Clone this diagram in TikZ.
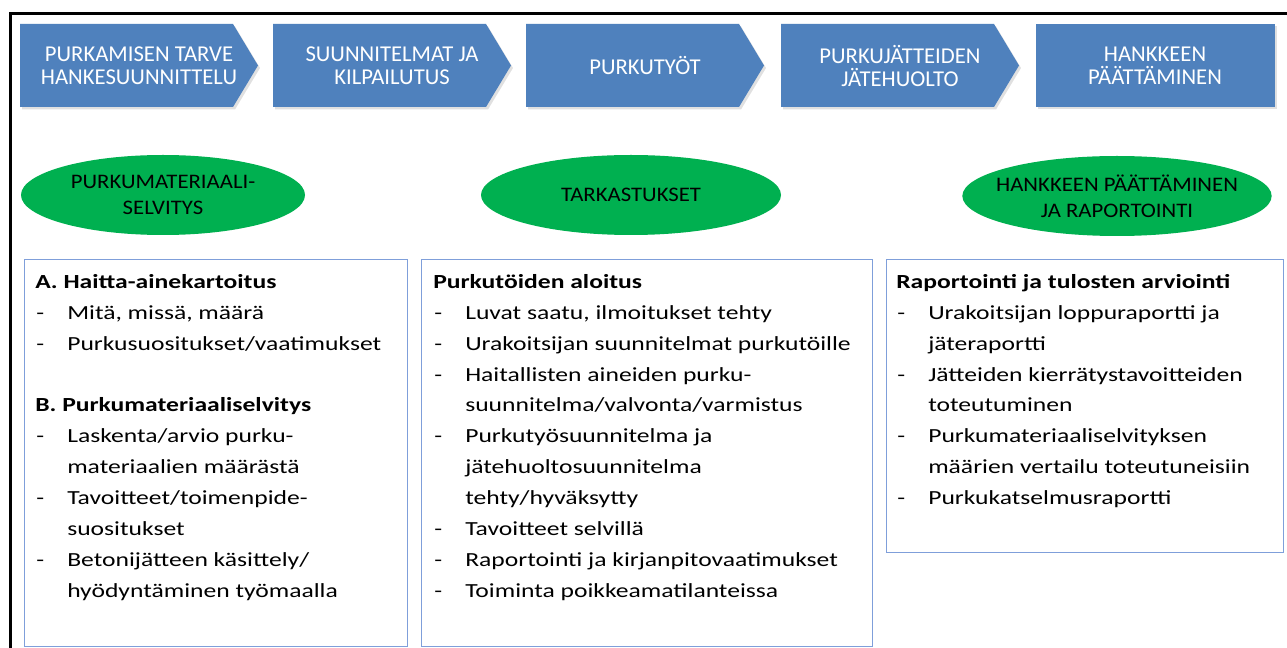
\documentclass[tikz,border=0pt]{standalone}
\usepackage{fontspec}
\setmainfont{Carlito}
\newfontfamily\bodyfont[FakeStretch=1.28]{Carlito}
\newfontfamily\ellfont[FakeStretch=1.1]{Carlito}
\usetikzlibrary{shapes.geometric}
\definecolor{chev}{HTML}{4F81BD}
\definecolor{ell}{HTML}{00B050}
\definecolor{bx}{HTML}{7F9FDA}
\begin{document}
\begin{tikzpicture}[x=0.75pt,y=-0.75pt,
  chevtext/.style={text=white,align=center,font=\fontsize{17}{17.5}\selectfont,inner sep=0pt},
  elltext/.style={align=center,font=\ellfont\fontsize{15.5}{19.3}\selectfont,inner sep=0pt},
  ellshape/.style={ellipse,fill=ell,draw=none,inner sep=0pt,minimum height=60pt},
  listbox/.style={draw=bx,line width=0.9pt,inner sep=0pt,anchor=north west},
  hd/.style={anchor=base west,inner sep=0pt,font=\bodyfont\fontsize{15}{18}\selectfont\bfseries},
  itm/.style={anchor=base west,inner sep=0pt,font=\bodyfont\fontsize{15}{18}\selectfont},
  ds/.style={anchor=base west,inner sep=0pt,font=\bodyfont\fontsize{15}{18}\selectfont}]
\useasboundingbox (0,0) rectangle (1287,648);
\fill[white] (0,0) rectangle (1287,648);
% frame
\draw[line width=2.25pt] (10.5,652) -- (10.5,14) -- (1292,14);
% chevrons
\foreach \x in {20,273,526,781}{
  \fill[black,opacity=0.12] (\x+2,26.5) -- (\x+215,26.5) -- (\x+240,68) -- (\x+215,109.5) -- (\x+2,109.5) -- cycle;
  \fill[chev] (\x,24) -- (\x+213,24) -- (\x+238,65.5) -- (\x+213,107) -- (\x,107) -- cycle;
}
\fill[black,opacity=0.12] (1038,26.5) rectangle (1277,109.5);
\fill[chev] (1036,24) rectangle (1275,107);
\node[chevtext] (c1) at (139,66) {PURKAMISEN TARVE\\HANKESUUNNITTELU};
\node[chevtext] (c2) at (392,66) {SUUNNITELMAT JA\\KILPAILUTUS};
\node[chevtext] (c3) at (645,66) {PURKUTYÖT};
\node[chevtext] (c4) at (900,66) {PURKUJÄTTEIDEN\\JÄTEHUOLTO};
\node[chevtext] (c5) at (1155,66) {HANKKEEN\\PÄÄTTÄMINEN};
% ellipses
\node[ellshape,minimum width=213pt] (e1) at (163,195) {};
\node[ellshape,minimum width=225pt] (e2) at (631,195) {};
\node[ellshape,minimum width=232pt] (e3) at (1117,196) {};
\node[elltext] (t1) at (e1.center) {PURKUMATERIAALI-\\SELVITYS};
\node[elltext] (t2) at (e2.center) {TARKASTUKSET};
\node[elltext] (t3) at (e3.center) {HANKKEEN PÄÄTTÄMINEN\\JA RAPORTOINTI};
% boxes
\node[listbox,minimum width=287.25pt,minimum height=290.25pt] (b1) at (24,259) {};
\node[listbox,minimum width=338.25pt,minimum height=290.25pt] (b2) at (421,259) {};
\node[listbox,minimum width=297.75pt,minimum height=219.75pt] (b3) at (886,259) {};
% box 1 text
\node[hd] (b1h1) at (35,288.3) {A. Haitta-ainekartoitus};
\node[ds] (b1d1) at (36,319.2) {-};
\node[itm] (b1t1) at (67,319.2) {Mitä, missä, määrä};
\node[ds] (b1d2) at (36,350.1) {-};
\node[itm] (b1t2) at (67,350.1) {Purkusuositukset/vaatimukset};
\node[hd] (b1h2) at (35,411.9) {B. Purkumateriaaliselvitys};
\node[ds] (b1d3) at (36,442.8) {-};
\node[itm] (b1t3) at (67,442.8) {Laskenta/arvio purku-};
\node[itm] (b1t4) at (67,473.7) {materiaalien määrästä};
\node[ds] (b1d5) at (36,504.6) {-};
\node[itm] (b1t5) at (67,504.6) {Tavoitteet/toimenpide-};
\node[itm] (b1t6) at (67,535.5) {suositukset};
\node[ds] (b1d7) at (36,566.4) {-};
\node[itm] (b1t7) at (67,566.4) {Betonijätteen käsittely/};
\node[itm] (b1t8) at (67,597.3) {hyödyntäminen työmaalla};
% box 2 text
\node[hd] (b2h1) at (433,288.3) {Purkutöiden aloitus};
\node[ds] (b2d1) at (434,319.2) {-};
\node[itm] (b2t1) at (465,319.2) {Luvat saatu, ilmoitukset tehty};
\node[ds] (b2d2) at (434,350.1) {-};
\node[itm] (b2t2) at (465,350.1) {Urakoitsijan suunnitelmat purkutöille};
\node[ds] (b2d3) at (434,381.0) {-};
\node[itm] (b2t3) at (465,381.0) {Haitallisten aineiden purku-};
\node[itm] (b2t4) at (465,411.9) {suunnitelma/valvonta/varmistus};
\node[ds] (b2d5) at (434,442.8) {-};
\node[itm] (b2t5) at (465,442.8) {Purkutyösuunnitelma ja};
\node[itm] (b2t6) at (465,473.7) {jätehuoltosuunnitelma};
\node[itm] (b2t7) at (465,504.6) {tehty/hyväksytty};
\node[ds] (b2d8) at (434,535.5) {-};
\node[itm] (b2t8) at (465,535.5) {Tavoitteet selvillä};
\node[ds] (b2d9) at (434,566.4) {-};
\node[itm] (b2t9) at (465,566.4) {Raportointi ja kirjanpitovaatimukset};
\node[ds] (b2d10) at (434,597.3) {-};
\node[itm] (b2t10) at (465,597.3) {Toiminta poikkeamatilanteissa};
% box 3 text
\node[hd] (b3h1) at (896,288.3) {Raportointi ja tulosten arviointi};
\node[ds] (b3d1) at (897,319.2) {-};
\node[itm] (b3t1) at (928,319.2) {Urakoitsijan loppuraportti ja};
\node[itm] (b3t2) at (928,350.1) {jäteraportti};
\node[ds] (b3d3) at (897,381.0) {-};
\node[itm] (b3t3) at (928,381.0) {Jätteiden kierrätystavoitteiden};
\node[itm] (b3t4) at (928,411.9) {toteutuminen};
\node[ds] (b3d5) at (897,442.8) {-};
\node[itm] (b3t5) at (928,442.8) {Purkumateriaaliselvityksen};
\node[itm] (b3t6) at (928,473.7) {määrien vertailu toteutuneisiin};
\node[ds] (b3d7) at (897,504.6) {-};
\node[itm] (b3t7) at (928,504.6) {Purkukatselmusraportti};
\end{tikzpicture}
\end{document}
